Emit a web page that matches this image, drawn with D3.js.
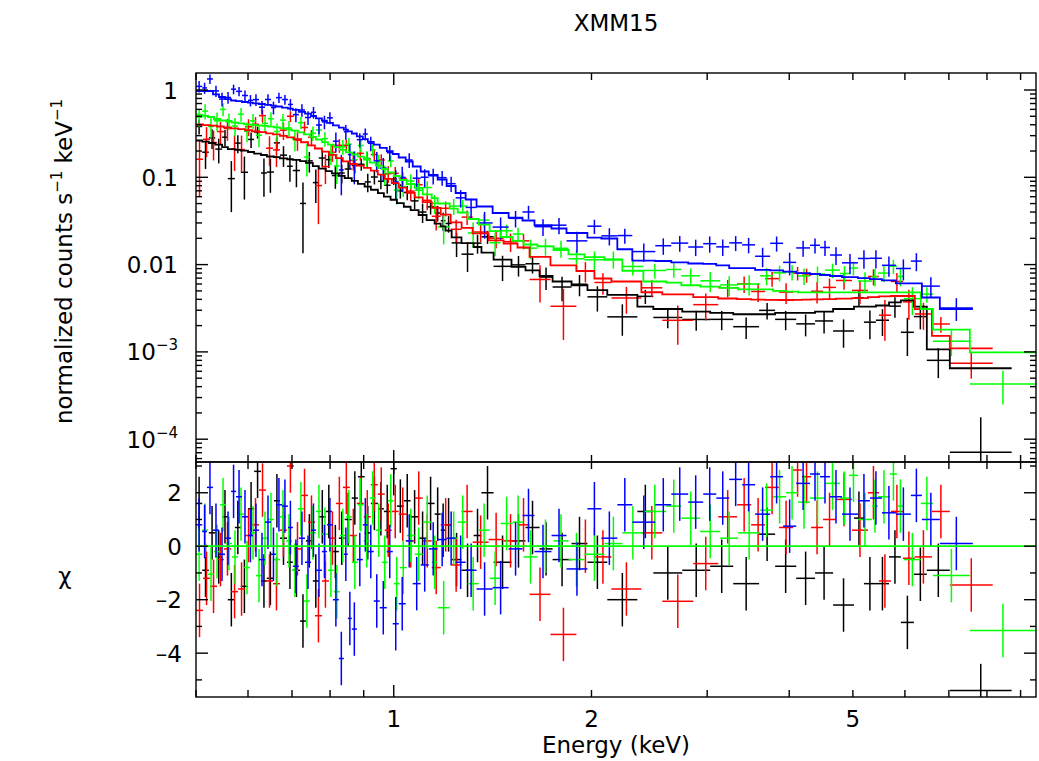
<!doctype html>
<html>
  <head>
    <meta charset="utf-8" />
    <title>XMM15</title>
    <style>
      body {
        margin: 0;
        background: #fff;
      }
      svg {
        display: block;
      }
      text {
        font-family: "DejaVu Sans", "Liberation Sans", sans-serif;
        fill: #000;
      }
    </style>
  </head>
  <body>
    <svg id="chart" width="1039" height="761"></svg>
    <script src="https://d3js.org/d3.v7.min.js"></script>
    <script>
      // axis ranges and tick labels
      const energyRange = [0.5, 9.5];
      const countsRange = [5.48e-5, 1.566];
      const chiRange = [-5.64, 3.15];
      const xTickLabels = [1, 2, 5];
      const yTopTickLabels = [1, 0.1, 0.01, 0.001, 0.0001];
      const yBotTickLabels = [2, 0, -2, -4];

      // each group: bin edges (keV), model per bin, chi residual per bin, error / model
      const blackEdges = [0.500,0.511,0.523,0.535,0.548,0.559,0.573,0.585,0.600,0.613,0.628,0.641,0.657,0.671,0.688,0.702,0.720,0.735,0.753,0.769,0.788,0.805,0.825,0.842,0.863,0.882,0.903,0.923,0.946,0.966,0.989,1.011,1.036,1.061,1.091,1.122,1.154,1.179,1.199,1.225,1.268,1.323,1.360,1.419,1.511,1.587,1.667,1.745,1.865,1.972,2.114,2.349,2.484,2.749,3.032,3.287,3.599,3.807,4.099,4.379,4.665,5.019,5.197,5.420,5.675,5.916,6.192,6.479,7.023,8.723];
      const blackModel = [0.264,0.256,0.247,0.237,0.222,0.210,0.206,0.202,0.195,0.187,0.180,0.173,0.170,0.165,0.161,0.158,0.153,0.146,0.134,0.126,0.118,0.111,0.104,0.098,0.091,0.084,0.078,0.072,0.066,0.060,0.0553,0.0505,0.0460,0.0421,0.0370,0.0324,0.0295,0.0274,0.0245,0.0205,0.0176,0.0159,0.0137,0.0114,0.0094,0.0086,0.0074,0.0064,0.0058,0.0051,0.0045,0.0033,0.0031,0.0029,0.0028,0.0027,0.0027,0.0028,0.0028,0.0029,0.0031,0.0033,0.0033,0.0034,0.0037,0.0039,0.0033,0.00107,0.00065];
      const blackChi = [1.6,-0.9,0.5,-0.4,1.1,-2.0,0.7,-1.5,1.4,2.8,-1.3,-1.2,1.7,0.3,-0.6,-0.9,-2.8,0.2,-1.3,1.1,1.3,-0.2,0.3,1.0,1.8,2.6,0.5,1.6,1.4,1.3,2.9,1.5,1.7,1.1,0.3,1.6,1.2,0.6,0.8,-0.5,-0.9,0.4,2.0,-0.6,0.2,0.7,-0.1,-0.5,0.1,-0.6,-2.0,1.3,-1.0,-0.9,-0.75,-1.4,0.45,-0.75,-1.2,-1.0,-2.2,1.05,-1.4,-1.4,-0.4,-2.85,-1.05,-0.9,-5.4];
      const blackErr = [0.28,0.27,0.29,0.28,0.27,0.27,0.28,0.29,0.28,0.27,0.29,0.28,0.27,0.29,0.28,0.27,0.24,0.28,0.27,0.29,0.27,0.28,0.26,0.27,0.28,0.26,0.27,0.25,0.26,0.27,0.25,0.26,0.27,0.25,0.27,0.26,0.27,0.27,0.26,0.27,0.28,0.27,0.26,0.27,0.28,0.27,0.28,0.27,0.28,0.27,0.22,0.24,0.2,0.21,0.21,0.2,0.24,0.21,0.21,0.22,0.2,0.25,0.24,0.23,0.24,0.2,0.22,0.28,0.165];

      const redEdges = [0.500,0.5125,0.5252,0.5383,0.5513,0.5654,0.5794,0.5938,0.6085,0.6236,0.6391,0.6549,0.6711,0.6877,0.7047,0.7226,0.7404,0.7586,0.7775,0.7967,0.8164,0.8366,0.8572,0.8786,0.9003,0.9226,0.9456,0.9690,0.9931,1.0176,1.0466,1.0763,1.1069,1.1424,1.1788,1.2209,1.2686,1.3186,1.3946,1.4697,1.5432,1.6096,1.7322,1.8970,2.0206,2.1448,2.3823,2.5634,2.8575,3.1187,3.3327,3.4999,3.6753,3.8600,4.0545,4.1842,4.3183,4.5035,4.7131,4.9843,5.2711,5.4782,5.7128,5.9580,6.2139,6.5961,7.0231,8.1623];
      const redModel = [0.4025,0.396,0.390,0.382,0.373,0.364,0.356,0.346,0.337,0.329,0.319,0.310,0.299,0.286,0.273,0.252,0.2326,0.2138,0.1965,0.1805,0.166,0.1525,0.142,0.136,0.128,0.1193,0.1074,0.0958,0.0856,0.0760,0.0663,0.0589,0.0520,0.0447,0.0373,0.0305,0.0264,0.0228,0.0189,0.01745,0.0157,0.01228,0.0098,0.00845,0.00693,0.0064,0.00482,0.00455,0.00425,0.00409,0.00402,0.00397,0.00395,0.00393,0.00395,0.00397,0.00400,0.00403,0.00408,0.00414,0.00425,0.00432,0.00437,0.00437,0.00309,0.00153,0.00110];
      const redChi = [-2.4,-1.2,-1.5,-0.5,-0.1,-1.7,-1.6,0.4,0.8,2.1,-1.3,-1.4,0.6,3.0,-0.1,1.9,0.9,-2.6,-1.3,0.3,1.6,2.2,0.4,1.6,1.1,2.3,1.95,0.6,1.3,1.2,0.2,1.8,0.2,-0.8,0.8,-0.7,1.3,0.15,0.25,0.2,0.8,-1.8,-3.3,0.0,-0.4,-1.6,0.5,-2.06,-0.65,1.1,1.55,0.8,2.2,0.7,2.85,2.6,0.7,1.0,1.75,0.6,2.0,-1.3,1.3,-0.45,-0.4,1.3,-1.45];
      const redErr = [0.25,0.26,0.24,0.25,0.27,0.25,0.26,0.24,0.25,0.26,0.25,0.24,0.26,0.25,0.24,0.25,0.26,0.24,0.25,0.24,0.25,0.24,0.26,0.24,0.25,0.23,0.24,0.25,0.23,0.23,0.24,0.22,0.24,0.25,0.23,0.24,0.25,0.24,0.25,0.25,0.24,0.25,0.2,0.26,0.25,0.22,0.25,0.24,0.28,0.3,0.32,0.3,0.34,0.33,0.36,0.35,0.34,0.36,0.35,0.37,0.36,0.3,0.36,0.32,0.3,0.28,0.225];

      const greenEdges = [0.500,0.511,0.5215,0.5326,0.5440,0.5555,0.5672,0.5794,0.5916,0.6042,0.6171,0.6301,0.6435,0.6571,0.6711,0.6854,0.6998,0.7147,0.7298,0.7453,0.7613,0.7775,0.7940,0.8107,0.8278,0.8455,0.8634,0.8816,0.9003,0.9194,0.9389,0.9590,0.9792,1.000,1.0212,1.0466,1.0763,1.1069,1.1424,1.1665,1.2166,1.2513,1.2959,1.3466,1.3995,1.4543,1.5168,1.5763,1.6550,1.7507,1.8450,1.9514,2.0925,2.2284,2.3988,2.5994,2.7400,2.9281,3.1405,3.3442,3.6124,3.7799,3.9560,4.1257,4.3024,4.5347,4.7788,4.9317,5.0897,5.3456,5.4590,5.6931,5.8345,5.9795,6.3445,6.6200,7.5335,9.5];
      const greenModel = [0.5213,0.5064,0.4905,0.4654,0.4473,0.4357,0.4233,0.4144,0.4047,0.3994,0.3941,0.3889,0.3808,0.3738,0.364,0.3527,0.3427,0.3268,0.3109,0.2903,0.2710,0.2530,0.2362,0.2212,0.2065,0.1928,0.1825,0.1726,0.1590,0.1474,0.1361,0.1245,0.1135,0.1035,0.0931,0.0838,0.0755,0.0637,0.0577,0.0501,0.0438,0.0395,0.0333,0.0287,0.0242,0.0207,0.0187,0.0170,0.0162,0.0147,0.0131,0.0122,0.0113,0.0085,0.0064,0.0062,0.0058,0.0056,0.0054,0.0052,0.0052,0.0050,0.0049,0.0048,0.0048,0.0048,0.0048,0.0048,0.0048,0.0048,0.0048,0.0048,0.0048,0.0048,0.0031,0.0018,0.00099];
      const greenChi = [-0.3,0.6,-1.05,-0.2,1.55,0.1,-0.4,1.2,-0.8,0.5,-1.1,0.3,1.0,-0.5,1.1,0.2,-0.9,1.4,-2.05,0.5,1.3,0.45,-0.9,-1.7,0.4,1.1,-0.6,1.55,0.2,1.8,0.6,-0.6,1.7,-1.4,-0.8,0.4,-0.3,0.9,-0.6,-2.3,0.3,0.9,-1.4,0.6,-1.2,0.85,0.9,-0.4,0.0,0.2,-0.5,-0.3,0.1,0.5,1.3,1.5,1.05,0.55,0.3,0.5,1.35,1.85,2.0,1.65,1.8,2.35,1.8,2.65,1.0,1.5,1.85,2.7,1.5,-0.5,1.6,-1.1,-3.15];
      const greenErr = [0.21,0.22,0.21,0.23,0.22,0.21,0.22,0.23,0.21,0.22,0.21,0.22,0.23,0.21,0.22,0.21,0.22,0.21,0.22,0.21,0.22,0.21,0.22,0.23,0.21,0.22,0.21,0.22,0.21,0.22,0.21,0.22,0.21,0.22,0.2,0.21,0.2,0.22,0.21,0.2,0.22,0.21,0.22,0.21,0.22,0.21,0.22,0.23,0.22,0.23,0.22,0.23,0.23,0.24,0.26,0.28,0.27,0.3,0.28,0.3,0.32,0.33,0.34,0.33,0.35,0.34,0.36,0.34,0.35,0.34,0.36,0.37,0.35,0.3,0.3,0.24,0.18];

      const blueEdges = [0.500,0.511,0.5196,0.5306,0.5420,0.5535,0.5654,0.5754,0.5875,0.5999,0.6105,0.6235,0.6368,0.6503,0.6617,0.6758,0.6901,0.7022,0.7171,0.7327,0.7482,0.7614,0.7775,0.7912,0.8080,0.8249,0.8395,0.8514,0.8634,0.8786,0.8972,0.9131,0.9324,0.9522,0.9759,0.9965,1.0176,1.0428,1.0688,1.0991,1.1304,1.1665,1.2036,1.2424,1.2867,1.3368,1.4143,1.4958,1.5704,1.6378,1.7384,1.8324,1.9716,2.0706,2.1896,2.3076,2.5013,2.6454,2.8072,2.9584,3.0972,3.2410,3.3914,3.5488,3.7411,3.9148,4.0988,4.3024,4.4557,4.6144,4.8128,5.0897,5.3076,5.5358,5.8131,6.1271,6.3680,6.7816,7.6137];
      const blueModel = [0.9688,0.9714,0.9740,0.8905,0.8314,0.7845,0.7580,0.7442,0.7287,0.7154,0.7043,0.6913,0.6752,0.6612,0.6471,0.6270,0.6107,0.5933,0.5612,0.5353,0.5037,0.4740,0.4461,0.4198,0.3930,0.3700,0.3518,0.3363,0.3175,0.2949,0.2739,0.2543,0.2368,0.2172,0.1991,0.1849,0.1686,0.1517,0.1330,0.1165,0.1062,0.0944,0.0795,0.0661,0.0557,0.0463,0.0390,0.0346,0.0320,0.0284,0.0259,0.0230,0.0204,0.0199,0.0150,0.0111,0.0110,0.0106,0.0103,0.0102,0.0098,0.0091,0.0091,0.0087,0.0086,0.0083,0.0080,0.0078,0.0076,0.0074,0.0072,0.0070,0.0068,0.0066,0.0061,0.0061,0.0042,0.0031];
      const blueChi = [0.8,0.55,2.2,0.6,-0.3,0.3,2.05,1.85,1.1,0.4,0.6,-0.5,0.9,-0.3,1.55,1.5,0.7,-0.75,0.3,-0.6,0.6,-0.9,-0.2,0.8,-2.0,-4.2,-0.3,-2.7,-3.1,-0.5,0.8,-0.2,-2.05,-2.3,-0.2,-2.9,-2.15,0.2,-1.4,-0.7,-0.1,0.25,0.3,-0.6,-0.9,-1.6,-1.55,-0.1,1.15,-0.2,0.4,-0.85,1.4,0.3,1.55,0.9,1.55,1.95,1.65,1.95,1.8,2.5,2.3,1.2,2.6,0.75,2.35,2.7,2.6,1.85,1.2,1.7,1.8,1.25,1.2,1.9,1.0,0.1];
      const blueErr = [0.17,0.16,0.17,0.16,0.17,0.16,0.17,0.16,0.17,0.16,0.17,0.16,0.17,0.16,0.17,0.16,0.17,0.16,0.17,0.16,0.17,0.18,0.17,0.18,0.17,0.16,0.18,0.17,0.18,0.17,0.18,0.18,0.17,0.18,0.19,0.18,0.19,0.2,0.19,0.2,0.2,0.2,0.21,0.2,0.21,0.22,0.2,0.21,0.22,0.21,0.23,0.22,0.25,0.24,0.28,0.3,0.32,0.34,0.33,0.36,0.35,0.38,0.37,0.36,0.4,0.37,0.4,0.42,0.41,0.4,0.38,0.4,0.41,0.39,0.4,0.42,0.35,0.3];

      const groups = [
        { color: "#000000", edges: blackEdges, model: blackModel, chi: blackChi, err: blackErr },
        { color: "#ff0000", edges: redEdges, model: redModel, chi: redChi, err: redErr },
        { color: "#00ff00", edges: greenEdges, model: greenModel, chi: greenChi, err: greenErr },
        { color: "#0000ff", edges: blueEdges, model: blueModel, chi: blueChi, err: blueErr },
      ];

      function drawChart() {
        const svg = d3.select("#chart");
        const left = 196, right = 1036, top = 73, mid = 462, bottom = 697;

        const x = d3.scaleLog().domain(energyRange).range([left, right]);
        const yTop = d3.scaleLog().domain(countsRange).range([mid, top]);
        const yBot = d3.scaleLinear().domain(chiRange).range([bottom, mid]);

        const defs = svg.append("defs");
        defs.append("clipPath").attr("id", "clipTop").append("rect")
          .attr("x", left).attr("y", top).attr("width", right - left).attr("height", mid - top);
        defs.append("clipPath").attr("id", "clipBot").append("rect")
          .attr("x", left).attr("y", mid).attr("width", right - left).attr("height", bottom - mid);

        // turn the arrays into bins
        function makeBins(g) {
          return g.model.map((m, i) => {
            const lo = g.edges[i], hi = g.edges[i + 1];
            const sig = g.err[i] * m;
            const val = m + g.chi[i] * sig;
            return { lo, hi, c: Math.sqrt(lo * hi), m, sig, val, chi: g.chi[i] };
          });
        }
        const floor = 1e-7;

        const gTop = svg.append("g").attr("clip-path", "url(#clipTop)");
        const gBot = svg.append("g").attr("clip-path", "url(#clipBot)");

        groups.forEach((g) => {
          const bins = makeBins(g);
          // data with errors (top)
          const dt = gTop.append("g").attr("stroke", g.color).attr("stroke-width", 1.5);
          dt.selectAll(null).data(bins).join("line")
            .attr("x1", (d) => x(d.lo)).attr("x2", (d) => x(d.hi))
            .attr("y1", (d) => yTop(Math.max(d.val, floor)))
            .attr("y2", (d) => yTop(Math.max(d.val, floor)));
          dt.selectAll(null).data(bins).join("line")
            .attr("x1", (d) => x(d.c)).attr("x2", (d) => x(d.c))
            .attr("y1", (d) => yTop(Math.max(d.val - d.sig, floor)))
            .attr("y2", (d) => yTop(Math.max(d.val + d.sig, floor)));

          // residuals (bottom)
          const db = gBot.append("g").attr("stroke", g.color).attr("stroke-width", 1.5);
          db.selectAll(null).data(bins).join("line")
            .attr("x1", (d) => x(d.lo)).attr("x2", (d) => x(d.hi))
            .attr("y1", (d) => yBot(d.chi)).attr("y2", (d) => yBot(d.chi));
          db.selectAll(null).data(bins).join("line")
            .attr("x1", (d) => x(d.c)).attr("x2", (d) => x(d.c))
            .attr("y1", (d) => yBot(d.chi - 1)).attr("y2", (d) => yBot(d.chi + 1));
        });

        // model step lines
        const stepLine = d3.line().x((p) => x(p[0])).y((p) => yTop(p[1]));
        groups.forEach((g) => {
          const pts = [];
          g.model.forEach((m, i) => {
            pts.push([g.edges[i], m]);
            pts.push([g.edges[i + 1], m]);
          });
          gTop.append("path").attr("d", stepLine(pts))
            .attr("fill", "none").attr("stroke", g.color).attr("stroke-width", 1.8);
        });

        // zero line
        gBot.append("line")
          .attr("x1", left).attr("x2", right)
          .attr("y1", yBot(0)).attr("y2", yBot(0))
          .attr("stroke", "#00ff00").attr("stroke-width", 1.8);

        // frames
        const axes = svg.append("g").attr("stroke", "#000").attr("fill", "none").attr("stroke-width", 1.4);
        axes.append("rect").attr("x", left).attr("y", top).attr("width", right - left).attr("height", mid - top);
        axes.append("rect").attr("x", left).attr("y", mid).attr("width", right - left).attr("height", bottom - mid);

        // x ticks on all four horizontal edges
        const isDecade = (v) => Math.abs(Math.log10(v) - Math.round(Math.log10(v))) < 1e-9;
        x.ticks().forEach((v) => {
          const len = isDecade(v) ? 12 : 7;
          const xp = x(v);
          [[top, 1], [mid, -1], [mid, 1], [bottom, -1]].forEach(([yy, dir]) => {
            axes.append("line").attr("x1", xp).attr("x2", xp).attr("y1", yy).attr("y2", yy + dir * len);
          });
        });

        // y ticks top panel (log)
        yTop.ticks().forEach((v) => {
          const len = isDecade(v) ? 12 : 6;
          const yp = yTop(v);
          axes.append("line").attr("x1", left).attr("x2", left + len).attr("y1", yp).attr("y2", yp);
          axes.append("line").attr("x1", right).attr("x2", right - len).attr("y1", yp).attr("y2", yp);
        });

        // y ticks bottom panel
        d3.range(-5, 4).forEach((v) => {
          const len = v % 2 === 0 ? 12 : 6;
          const yp = yBot(v);
          axes.append("line").attr("x1", left).attr("x2", left + len).attr("y1", yp).attr("y2", yp);
          axes.append("line").attr("x1", right).attr("x2", right - len).attr("y1", yp).attr("y2", yp);
        });

        const fs = 23;
        const labels = svg.append("g").attr("font-size", fs);

        // x tick labels
        xTickLabels.forEach((v) => {
          labels.append("text").attr("x", x(v)).attr("y", 727)
            .attr("text-anchor", "middle").text(v);
        });

        // top y tick labels
        yTopTickLabels.forEach((v) => {
          const t = labels.append("text").attr("x", 178).attr("y", yTop(v) + 8.5)
            .attr("text-anchor", "end");
          if (v >= 0.01) {
            t.text(String(v));
          } else {
            t.append("tspan").text("10");
            t.append("tspan").attr("dy", -10).attr("font-size", 15)
              .text("\u2212" + Math.round(-Math.log10(v)));
          }
        });

        // bottom y tick labels
        yBotTickLabels.forEach((v) => {
          labels.append("text").attr("x", 182).attr("y", yBot(v) + 8.5)
            .attr("text-anchor", "end")
            .text(v < 0 ? "\u2013" + Math.abs(v) : String(v));
        });

        // titles
        labels.append("text").attr("x", (left + right) / 2).attr("y", 31)
          .attr("text-anchor", "middle").text("XMM15");
        labels.append("text").attr("x", (left + right) / 2).attr("y", 753)
          .attr("text-anchor", "middle").text("Energy (keV)");

        const yl = labels.append("text")
          .attr("transform", `translate(72, ${(top + mid) / 2 - 6}) rotate(-90)`)
          .attr("text-anchor", "middle");
        yl.append("tspan").text("normalized counts s");
        yl.append("tspan").attr("dy", -10).attr("font-size", 15).text("\u22121");
        yl.append("tspan").attr("dy", 10).text(" keV");
        yl.append("tspan").attr("dy", -10).attr("font-size", 15).text("\u22121");

        labels.append("text").attr("x", 65).attr("y", (mid + bottom) / 2 + 4)
          .attr("text-anchor", "middle").text("\u03c7");
      }

      drawChart();
    </script>
  </body>
</html>
